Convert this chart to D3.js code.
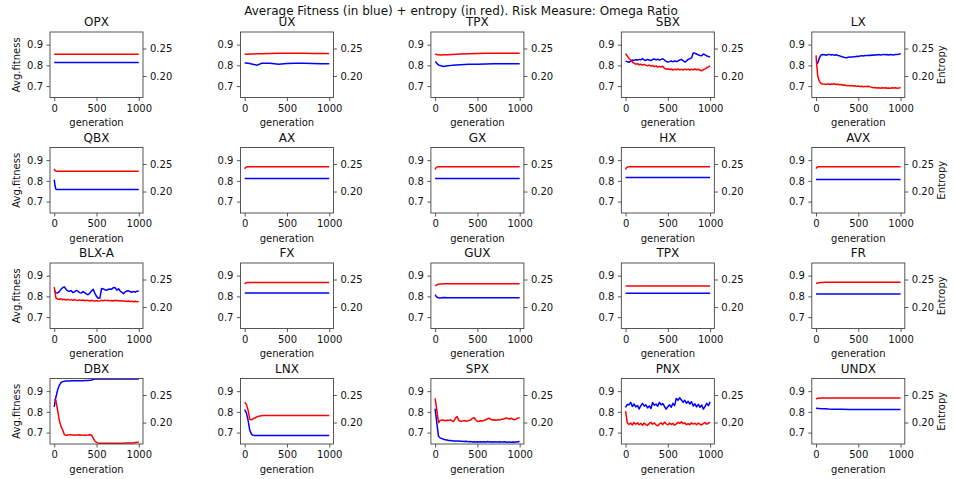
<!DOCTYPE html>
<html>
<head>
<meta charset="utf-8">
<script src="https://cdn.jsdelivr.net/npm/d3@7"></script>
<style>
  body { margin: 0; background: #fff; }
  svg { display: block; }
</style>
</head>
<body>
<svg id="chart" width="955" height="479"></svg>
<script>
const suptitle = "Average Fitness (in blue) + entropy (in red). Risk Measure: Omega Ratio";
const panelNames = ["OPX", "UX", "TPX", "SBX", "LX",
                    "QBX", "AX", "GX", "HX", "AVX",
                    "BLX-A", "FX", "GUX", "TPX", "FR",
                    "DBX", "LNX", "SPX", "PNX", "UNDX"];

const fitTicks = [0.7, 0.8, 0.9];
const entTicks = [0.20, 0.25];
const genTicks = [0, 500, 1000];

const genCoarse = [0, 10, 20, 30, 40, 60, 80, 100, 150, 200, 300, 400, 500, 600, 700, 800, 900, 1000];
const genFine = [0, 20, 40, 60, 80, 100, 120, 140, 160, 180, 200, 220, 240, 260, 280, 300, 320, 340, 360, 380,
                 400, 420, 440, 460, 480, 500, 520, 540, 560, 580, 600, 620, 640, 660, 680, 700, 720, 740, 760, 780,
                 800, 820, 840, 860, 880, 900, 920, 940, 960, 980, 1000];

// row 1
const opxFit = [0.814, 0.814, 0.814, 0.814, 0.814, 0.814, 0.814, 0.814, 0.814, 0.814, 0.814, 0.814, 0.814, 0.814, 0.814, 0.814, 0.814, 0.814];
const opxEnt = [0.2395, 0.2395, 0.2395, 0.2395, 0.2395, 0.2395, 0.2395, 0.2395, 0.2395, 0.2395, 0.2395, 0.2395, 0.2395, 0.2395, 0.2395, 0.2395, 0.2395, 0.2395];
const uxFit = [0.8115, 0.812, 0.811, 0.810, 0.810, 0.809, 0.807, 0.805, 0.801, 0.810, 0.810, 0.805, 0.809, 0.810, 0.810, 0.809, 0.808, 0.808];
const uxEnt = [0.2396, 0.2396, 0.2397, 0.2397, 0.2398, 0.2399, 0.2400, 0.2401, 0.2403, 0.2405, 0.2410, 0.2413, 0.2415, 0.2415, 0.2413, 0.2411, 0.2410, 0.2409];
const tpxFit = [0.818, 0.815, 0.810, 0.806, 0.802, 0.799, 0.797, 0.795, 0.798, 0.800, 0.803, 0.805, 0.806, 0.807, 0.808, 0.808, 0.808, 0.808];
const tpxEnt = [0.2396, 0.2394, 0.2391, 0.2388, 0.2386, 0.2384, 0.2384, 0.2385, 0.2388, 0.2393, 0.2400, 0.2405, 0.2410, 0.2413, 0.2414, 0.2415, 0.2415, 0.2415];
const sbxFit = [0.820, 0.818, 0.815, 0.820, 0.826, 0.824, 0.828, 0.825, 0.829, 0.827, 0.833, 0.826, 0.824, 0.829, 0.826, 0.823, 0.828, 0.831, 0.826, 0.830,
                0.825, 0.829, 0.832, 0.826, 0.819, 0.816, 0.818, 0.821, 0.817, 0.822, 0.818, 0.821, 0.826, 0.829, 0.823, 0.816, 0.821, 0.829, 0.832, 0.836,
                0.860, 0.858, 0.855, 0.851, 0.848, 0.846, 0.855, 0.851, 0.846, 0.843, 0.840];
const sbxEnt = [0.2405, 0.2365, 0.2320, 0.2290, 0.2255, 0.2235, 0.2215, 0.2225, 0.2205, 0.2215, 0.2198, 0.2212, 0.2195, 0.2185, 0.2200, 0.2180, 0.2190, 0.2170, 0.2185, 0.2162,
                0.2175, 0.2165, 0.2178, 0.2140, 0.2125, 0.2132, 0.2118, 0.2128, 0.2110, 0.2125, 0.2115, 0.2128, 0.2112, 0.2122, 0.2108, 0.2125, 0.2115, 0.2126, 0.2110, 0.2122,
                0.2112, 0.2128, 0.2115, 0.2124, 0.2105, 0.2095, 0.2118, 0.2130, 0.2150, 0.2165, 0.2185];
const lxFit = [0.817, 0.811, 0.836, 0.850, 0.852, 0.851, 0.849, 0.852, 0.853, 0.850, 0.852, 0.849, 0.851, 0.848, 0.846, 0.843, 0.840, 0.838, 0.837, 0.839,
               0.841, 0.839, 0.842, 0.841, 0.844, 0.843, 0.845, 0.847, 0.845, 0.848, 0.847, 0.849, 0.848, 0.850, 0.849, 0.851, 0.850, 0.852, 0.850, 0.851,
               0.853, 0.851, 0.852, 0.850, 0.852, 0.851, 0.850, 0.853, 0.852, 0.854, 0.857];
const lxEnt = [0.2376, 0.2000, 0.1900, 0.1865, 0.1855, 0.1852, 0.1848, 0.1858, 0.1846, 0.1855, 0.1850, 0.1858, 0.1845, 0.1852, 0.1840, 0.1846, 0.1832, 0.1838, 0.1825, 0.1830,
               0.1820, 0.1826, 0.1818, 0.1822, 0.1812, 0.1818, 0.1810, 0.1815, 0.1806, 0.1812, 0.1808, 0.1814, 0.1803, 0.1797, 0.1785, 0.1790, 0.1782, 0.1788, 0.1780, 0.1786,
               0.1781, 0.1787, 0.1778, 0.1784, 0.1776, 0.1788, 0.1782, 0.1786, 0.1780, 0.1784, 0.1790];

// row 2
const qbxFit = [0.806, 0.775, 0.759, 0.758, 0.758, 0.758, 0.758, 0.758, 0.758, 0.758, 0.758, 0.758, 0.758, 0.758, 0.758, 0.758, 0.758, 0.758];
const qbxEnt = [0.2411, 0.2380, 0.2371, 0.2369, 0.2369, 0.2369, 0.2369, 0.2369, 0.2369, 0.2369, 0.2369, 0.2369, 0.2369, 0.2369, 0.2369, 0.2369, 0.2369, 0.2369];
const axFit = [0.811, 0.811, 0.811, 0.811, 0.811, 0.811, 0.811, 0.811, 0.811, 0.811, 0.811, 0.811, 0.811, 0.811, 0.811, 0.811, 0.811, 0.811];
const axEnt = [0.2410, 0.2435, 0.2445, 0.2449, 0.2451, 0.2452, 0.2452, 0.2452, 0.2452, 0.2452, 0.2452, 0.2452, 0.2452, 0.2452, 0.2452, 0.2452, 0.2452, 0.2452];
const gxFit = [0.811, 0.811, 0.811, 0.811, 0.811, 0.811, 0.811, 0.811, 0.811, 0.811, 0.811, 0.811, 0.811, 0.811, 0.811, 0.811, 0.811, 0.811];
const gxEnt = [0.2399, 0.2432, 0.2443, 0.2448, 0.2450, 0.2452, 0.2452, 0.2452, 0.2452, 0.2452, 0.2452, 0.2452, 0.2452, 0.2452, 0.2452, 0.2452, 0.2452, 0.2452];
const hxFit = [0.816, 0.816, 0.816, 0.816, 0.816, 0.816, 0.816, 0.816, 0.816, 0.816, 0.816, 0.816, 0.816, 0.816, 0.816, 0.816, 0.816, 0.816];
const hxEnt = [0.2401, 0.2433, 0.2444, 0.2448, 0.2450, 0.2452, 0.2452, 0.2452, 0.2452, 0.2452, 0.2452, 0.2452, 0.2452, 0.2452, 0.2452, 0.2452, 0.2452, 0.2452];
const avxFit = [0.807, 0.807, 0.807, 0.807, 0.807, 0.807, 0.807, 0.807, 0.807, 0.807, 0.807, 0.807, 0.807, 0.807, 0.807, 0.807, 0.807, 0.807];
const avxEnt = [0.2416, 0.2440, 0.2447, 0.2450, 0.2451, 0.2452, 0.2452, 0.2452, 0.2452, 0.2452, 0.2452, 0.2452, 0.2452, 0.2452, 0.2452, 0.2452, 0.2452, 0.2452];

// row 3
const blxFit = [0.829, 0.818, 0.816, 0.823, 0.834, 0.842, 0.846, 0.834, 0.826, 0.825, 0.828, 0.818, 0.822, 0.829, 0.825, 0.818, 0.816, 0.823, 0.818, 0.812,
                0.808, 0.815, 0.826, 0.834, 0.816, 0.800, 0.791, 0.792, 0.838, 0.836, 0.832, 0.829, 0.834, 0.836, 0.834, 0.843, 0.842, 0.830, 0.837, 0.826,
                0.819, 0.813, 0.822, 0.826, 0.827, 0.822, 0.820, 0.824, 0.820, 0.825, 0.826];
const blxEnt = [0.2363, 0.2165, 0.2145, 0.2138, 0.2150, 0.2132, 0.2142, 0.2128, 0.2140, 0.2126, 0.2135, 0.2122, 0.2136, 0.2125, 0.2118, 0.2130, 0.2120, 0.2128, 0.2115, 0.2125,
                0.2118, 0.2110, 0.2124, 0.2115, 0.2108, 0.2118, 0.2105, 0.2112, 0.2122, 0.2114, 0.2126, 0.2116, 0.2124, 0.2112, 0.2120, 0.2110, 0.2122, 0.2114, 0.2120, 0.2108,
                0.2116, 0.2104, 0.2112, 0.2100, 0.2110, 0.2098, 0.2106, 0.2095, 0.2104, 0.2097, 0.2103];
const fxFit = [0.816, 0.816, 0.816, 0.816, 0.816, 0.816, 0.816, 0.816, 0.816, 0.816, 0.816, 0.816, 0.816, 0.816, 0.816, 0.816, 0.816, 0.816];
const fxEnt = [0.2416, 0.2435, 0.2442, 0.2445, 0.2446, 0.2447, 0.2447, 0.2447, 0.2447, 0.2447, 0.2447, 0.2447, 0.2447, 0.2447, 0.2447, 0.2447, 0.2447, 0.2447];
const guxFit = [0.808, 0.801, 0.797, 0.795, 0.793, 0.792, 0.793, 0.794, 0.7935, 0.7935, 0.7935, 0.7935, 0.7935, 0.7935, 0.7935, 0.7935, 0.7935, 0.7935];
const guxEnt = [0.2384, 0.2395, 0.2403, 0.2409, 0.2413, 0.2417, 0.2419, 0.2421, 0.2421, 0.2421, 0.2421, 0.2421, 0.2421, 0.2421, 0.2421, 0.2421, 0.2421, 0.2421];
const tpx2Fit = [0.8145, 0.8145, 0.8145, 0.8145, 0.8145, 0.8145, 0.8145, 0.8145, 0.8145, 0.8145, 0.8145, 0.8145, 0.8145, 0.8145, 0.8145, 0.8145, 0.8145, 0.8145];
const tpx2Ent = [0.2384, 0.2384, 0.2384, 0.2384, 0.2384, 0.2384, 0.2384, 0.2384, 0.2384, 0.2384, 0.2384, 0.2384, 0.2384, 0.2384, 0.2384, 0.2384, 0.2384, 0.2384];
const frFit = [0.811, 0.811, 0.811, 0.811, 0.811, 0.811, 0.811, 0.811, 0.811, 0.811, 0.811, 0.811, 0.811, 0.811, 0.811, 0.811, 0.811, 0.811];
const frEnt = [0.2427, 0.2433, 0.2437, 0.2440, 0.2442, 0.2445, 0.2447, 0.2449, 0.2450, 0.2451, 0.2451, 0.2451, 0.2451, 0.2451, 0.2451, 0.2451, 0.2451, 0.2451];

// row 4
const dbxFit = [0.824, 0.872, 0.905, 0.928, 0.941, 0.946, 0.948, 0.949, 0.949, 0.949, 0.950, 0.950, 0.950, 0.950, 0.950, 0.950, 0.950, 0.950, 0.951, 0.951,
                0.951, 0.952, 0.953, 0.956, 0.958, 0.959, 0.959, 0.959, 0.959, 0.959, 0.959, 0.959, 0.959, 0.959, 0.959, 0.959, 0.959, 0.959, 0.959, 0.959,
                0.959, 0.959, 0.959, 0.959, 0.959, 0.959, 0.959, 0.959, 0.959, 0.959, 0.959];
const dbxEnt = [0.2422, 0.2397, 0.2225, 0.2040, 0.1930, 0.1868, 0.1780, 0.1766, 0.1772, 0.1776, 0.1778, 0.1774, 0.1770, 0.1773, 0.1775, 0.1777, 0.1772, 0.1769, 0.1768, 0.1771,
                0.1773, 0.1778, 0.1775, 0.1720, 0.1665, 0.1640, 0.1630, 0.1625, 0.1624, 0.1623, 0.1623, 0.1622, 0.1622, 0.1622, 0.1623, 0.1623, 0.1623, 0.1624, 0.1624, 0.1624,
                0.1625, 0.1625, 0.1626, 0.1626, 0.1627, 0.1628, 0.1630, 0.1632, 0.1636, 0.1640, 0.1645];
const lnxFit = [0.811, 0.795, 0.760, 0.712, 0.693, 0.687, 0.686, 0.686, 0.686, 0.686, 0.686, 0.686, 0.686, 0.686, 0.686, 0.686, 0.686, 0.686, 0.686, 0.686,
                0.686, 0.686, 0.686, 0.686, 0.686, 0.686, 0.686, 0.686, 0.686, 0.686, 0.686, 0.686, 0.686, 0.686, 0.686, 0.686, 0.686, 0.686, 0.686, 0.686,
                0.686, 0.686, 0.686, 0.686, 0.686, 0.686, 0.686, 0.686, 0.686, 0.686, 0.686];
const lnxEnt = [0.2368, 0.2330, 0.2229, 0.2061, 0.2050, 0.2068, 0.2082, 0.2100, 0.2112, 0.2119, 0.2124, 0.2126, 0.2127, 0.2126, 0.2127, 0.2128, 0.2127, 0.2126, 0.2127, 0.2128,
                0.2127, 0.2126, 0.2127, 0.2127, 0.2128, 0.2127, 0.2126, 0.2127, 0.2128, 0.2127, 0.2127, 0.2126, 0.2127, 0.2127, 0.2128, 0.2128, 0.2127, 0.2127, 0.2128, 0.2128,
                0.2127, 0.2128, 0.2128, 0.2127, 0.2128, 0.2128, 0.2127, 0.2128, 0.2128, 0.2127, 0.2128];
const spxFit = [0.815, 0.747, 0.682, 0.674, 0.671, 0.668, 0.666, 0.664, 0.662, 0.662, 0.661, 0.660, 0.660, 0.659, 0.660, 0.658, 0.658, 0.657, 0.658, 0.657,
                0.656, 0.657, 0.655, 0.656, 0.655, 0.656, 0.655, 0.656, 0.655, 0.656, 0.655, 0.657, 0.655, 0.656, 0.655, 0.656, 0.655, 0.655, 0.656, 0.655,
                0.655, 0.656, 0.655, 0.654, 0.655, 0.654, 0.655, 0.654, 0.655, 0.656, 0.657];
const spxEnt = [0.2440, 0.2220, 0.2000, 0.2035, 0.2049, 0.2040, 0.2031, 0.2042, 0.2036, 0.2049, 0.2030, 0.2019, 0.2080, 0.2108, 0.2040, 0.2022, 0.2028, 0.2035, 0.2031, 0.2025,
                0.2036, 0.2045, 0.2075, 0.2090, 0.2050, 0.2019, 0.2025, 0.2034, 0.2028, 0.2040, 0.2049, 0.2070, 0.2079, 0.2055, 0.2045, 0.2049, 0.2040, 0.2052, 0.2046, 0.2058,
                0.2061, 0.2068, 0.2085, 0.2075, 0.2060, 0.2079, 0.2058, 0.2049, 0.2065, 0.2080, 0.2090];
const pnxFit = [0.822, 0.836, 0.834, 0.846, 0.826, 0.838, 0.824, 0.831, 0.814, 0.830, 0.841, 0.828, 0.834, 0.819, 0.829, 0.816, 0.845, 0.832, 0.838, 0.827,
                0.846, 0.834, 0.840, 0.826, 0.813, 0.825, 0.834, 0.822, 0.841, 0.830, 0.865, 0.856, 0.868, 0.857, 0.846, 0.856, 0.841, 0.851, 0.838, 0.849,
                0.828, 0.839, 0.824, 0.836, 0.822, 0.833, 0.813, 0.826, 0.841, 0.830, 0.848];
const pnxEnt = [0.2208, 0.2000, 0.1965, 0.1990, 0.1955, 0.2002, 0.1968, 0.1995, 0.1960, 0.1985, 0.1952, 0.1992, 0.1962, 0.1945, 0.1985, 0.2005, 0.1970, 0.1992, 0.1958, 0.1940,
                0.1975, 0.1995, 0.1962, 0.2008, 0.1978, 0.1955, 0.1990, 0.1965, 0.1985, 0.1950, 0.1975, 0.2005, 0.1985, 0.2012, 0.1980, 0.1995, 0.1962, 0.1978, 0.1958, 0.1995,
                0.1972, 0.1988, 0.1960, 0.1992, 0.1968, 0.1955, 0.1985, 0.2002, 0.1970, 0.1990, 0.2008];
const undxFit = [0.817, 0.817, 0.8165, 0.816, 0.816, 0.8155, 0.815, 0.8145, 0.8135, 0.813, 0.8122, 0.812, 0.812, 0.812, 0.812, 0.812, 0.812, 0.812];
const undxEnt = [0.2425, 0.2435, 0.2440, 0.2442, 0.2443, 0.2445, 0.2445, 0.2445, 0.2445, 0.2445, 0.2445, 0.2445, 0.2445, 0.2445, 0.2445, 0.2445, 0.2445, 0.2445];

const panelGen = [genCoarse, genCoarse, genCoarse, genFine, genFine,
                  genCoarse, genCoarse, genCoarse, genCoarse, genCoarse,
                  genFine, genCoarse, genCoarse, genCoarse, genCoarse,
                  genFine, genFine, genFine, genFine, genCoarse];
const panelFit = [opxFit, uxFit, tpxFit, sbxFit, lxFit,
                  qbxFit, axFit, gxFit, hxFit, avxFit,
                  blxFit, fxFit, guxFit, tpx2Fit, frFit,
                  dbxFit, lnxFit, spxFit, pnxFit, undxFit];
const panelEnt = [opxEnt, uxEnt, tpxEnt, sbxEnt, lxEnt,
                  qbxEnt, axEnt, gxEnt, hxEnt, avxEnt,
                  blxEnt, fxEnt, guxEnt, tpx2Ent, frEnt,
                  dbxEnt, lnxEnt, spxEnt, pnxEnt, undxEnt];

let fontFamily = "DejaVu Sans";
let textColor = "#111";
let spineColor = "#444";
let blueColor = "#0000ff";
let redColor = "#ff0000";

let panelW = 93;
let panelH = 65.5;

function drawPanel(svg, i) {
    let col = i % 5;
    let row = Math.floor(i / 5);
    let left = 50 + col * 190.45;
    let top = 32 + row * 115.5;

    let x = d3.scaleLinear().domain([-50, 1050]).range([left, left + panelW]);
    let yFit = d3.scaleLinear().domain([0.645, 0.961]).range([top + panelH, top]);
    let yEnt = d3.scaleLinear().domain([0.161, 0.280]).range([top + panelH, top]);

    let g = svg.append("g");

    g.append("clipPath")
        .attr("id", "clip" + i)
        .append("rect")
        .attr("x", left)
        .attr("y", top)
        .attr("width", panelW)
        .attr("height", panelH);

    let gens = panelGen[i];
    let fitLine = d3.line()
        .x((d, k) => x(gens[k]))
        .y(d => yFit(d));
    let entLine = d3.line()
        .x((d, k) => x(gens[k]))
        .y(d => yEnt(d));

    g.append("path")
        .datum(panelFit[i])
        .attr("clip-path", "url(#clip" + i + ")")
        .attr("d", fitLine)
        .style("fill", "none")
        .style("stroke", blueColor)
        .style("stroke-width", 1.5)
        .style("stroke-linejoin", "round");

    g.append("path")
        .datum(panelEnt[i])
        .attr("clip-path", "url(#clip" + i + ")")
        .attr("d", entLine)
        .style("fill", "none")
        .style("stroke", redColor)
        .style("stroke-width", 1.5)
        .style("stroke-linejoin", "round");

    // axes
    let axLeft = g.append("g")
        .attr("transform", "translate(" + left + ",0)")
        .call(d3.axisLeft(yFit).tickValues(fitTicks).tickFormat(d3.format(".1f"))
            .tickSize(3.5).tickPadding(3.5).tickSizeOuter(0));
    let axRight = g.append("g")
        .attr("transform", "translate(" + (left + panelW) + ",0)")
        .call(d3.axisRight(yEnt).tickValues(entTicks).tickFormat(d3.format(".2f"))
            .tickSize(3.5).tickPadding(3.5).tickSizeOuter(0));
    let axBottom = g.append("g")
        .attr("transform", "translate(0," + (top + panelH) + ")")
        .call(d3.axisBottom(x).tickValues(genTicks).tickFormat(d3.format("d"))
            .tickSize(3.5).tickPadding(3.5).tickSizeOuter(0));

    for (let ax of [axLeft, axRight, axBottom]) {
        ax.select(".domain").remove();
        ax.selectAll("line").style("stroke", spineColor).style("stroke-width", 0.9);
        ax.selectAll("text")
            .style("font-family", fontFamily)
            .style("font-size", "10px")
            .style("fill", textColor);
    }

    // frame
    g.append("rect")
        .attr("x", left)
        .attr("y", top)
        .attr("width", panelW)
        .attr("height", panelH)
        .style("fill", "none")
        .style("stroke", spineColor)
        .style("stroke-width", 0.9);

    // title + labels
    g.append("text")
        .attr("x", left + panelW / 2)
        .attr("y", top - 6)
        .attr("text-anchor", "middle")
        .text(panelNames[i])
        .style("font-family", fontFamily)
        .style("font-size", "12px")
        .style("fill", textColor);

    g.append("text")
        .attr("x", left + panelW / 2)
        .attr("y", top + panelH + 28.5)
        .attr("text-anchor", "middle")
        .text("generation")
        .style("font-family", fontFamily)
        .style("font-size", "10px")
        .style("fill", textColor);

    if (col == 0) {
        g.append("text")
            .attr("transform", "translate(19.5," + (top + panelH / 2) + ") rotate(-90)")
            .attr("text-anchor", "middle")
            .text("Avg.fitness")
            .style("font-family", fontFamily)
            .style("font-size", "10px")
            .style("fill", textColor);
    }
    if (col == 4) {
        g.append("text")
            .attr("transform", "translate(944.5," + (top + panelH / 2) + ") rotate(-90)")
            .attr("text-anchor", "middle")
            .text("Entropy")
            .style("font-family", fontFamily)
            .style("font-size", "10px")
            .style("fill", textColor);
    }
}

let svg = d3.select("#chart");

svg.append("text")
    .attr("x", 461)
    .attr("y", 14.5)
    .attr("text-anchor", "middle")
    .text(suptitle)
    .style("font-family", fontFamily)
    .style("font-size", "12px")
    .style("fill", textColor);

for (let i = 0; i < panelNames.length; i++) {
    drawPanel(svg, i);
}
</script>
</body>
</html>
